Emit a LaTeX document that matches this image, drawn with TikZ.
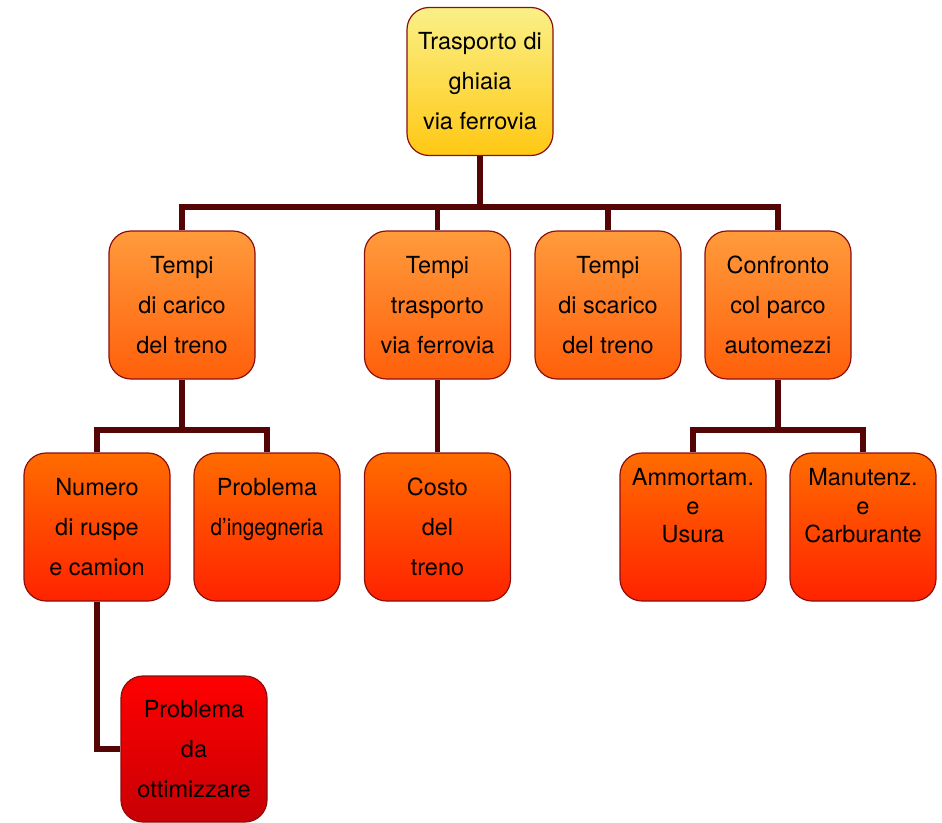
\documentclass[tikz,border=0pt]{standalone}
\usepackage{fontspec}
\setmainfont{TeX Gyre Heros}
\usetikzlibrary{calc}
\definecolor{yA}{RGB}{250,240,135}
\definecolor{yB}{RGB}{255,200,20}
\definecolor{oA}{RGB}{255,155,60}
\definecolor{oB}{RGB}{255,95,10}
\definecolor{rA}{RGB}{255,108,0}
\definecolor{rB}{RGB}{255,35,0}
\definecolor{dA}{RGB}{255,0,0}
\definecolor{dB}{RGB}{200,0,5}
\definecolor{bordc}{RGB}{140,15,15}
\definecolor{connc}{RGB}{85,5,5}
\begin{document}
\begin{tikzpicture}[x=1pt,y=-1pt,
  box/.style={draw=bordc, line width=1.2pt, rounded corners=22pt,
    minimum width=146pt, minimum height=148pt, inner sep=0pt, align=center,
    font=\fontsize{23.5}{40}\selectfont},
  lvlA/.style={box, top color=yA, bottom color=yB},
  lvlB/.style={box, top color=oA, bottom color=oB},
  lvlC/.style={box, top color=rA, bottom color=rB},
  lvlD/.style={box, top color=dA, bottom color=dB},
  txt/.style={align=center, inner sep=0pt, font=\fontsize{23.5}{28.5}\selectfont},
  conn/.style={draw=connc, line width=5.5pt, line join=miter}]
\useasboundingbox (0,0) rectangle (942,822);

\node[lvlA] (top) at (480,81.5) {Trasporto di\\ghiaia\\via ferrovia};

\node[lvlB] (b1) at (182,305) {Tempi\\di carico\\del treno};
\node[lvlB] (b2) at (437.5,305) {Tempi\\trasporto\\via ferrovia};
\node[lvlB] (b3) at (608,305) {Tempi\\di scarico\\del treno};
\node[lvlB] (b4) at (778,305) {Confronto\\col parco\\automezzi};

\node[lvlC] (c1) at (97,527) {Numero\\di ruspe\\e camion};
\node[lvlC] (c2) at (267,527) {Problema\\\scalebox{0.88}[1]{d’ingegneria}\\\mbox{}};
\node[lvlC] (c3) at (437.5,527) {Costo\\del\\treno};
\node[lvlC] (c4) at (693,527) {};
\node[txt] (t4) at (693,506) {Ammortam.\\e\\Usura};
\node[lvlC] (c5) at (863,527) {};
\node[txt] (t5) at (863,506) {Manutenz.\\e\\Carburante};

\node[lvlD, minimum height=146pt] (d1) at (194,749) {Problema\\da\\ottimizzare};

\coordinate (busA) at (0,207);
\coordinate (busB) at (0,430);

\draw[conn] (top.south) -- (top.south |- busA);
\draw[conn] (b1.north) |- (b4.north |- busA) -- (b4.north);
\draw[conn] (b2.north) -- (b2.north |- busA);
\draw[conn] (b3.north) -- (b3.north |- busA);

\draw[conn] (b1.south) -- (b1.south |- busB);
\draw[conn] (c1.north) |- (c2.north |- busB) -- (c2.north);
\draw[conn] (b2.south) -- (c3.north);
\draw[conn] (b4.south) -- (b4.south |- busB);
\draw[conn] (c4.north) |- (c5.north |- busB) -- (c5.north);

\draw[conn] (c1.south) |- (d1.west);
\end{tikzpicture}
\end{document}
